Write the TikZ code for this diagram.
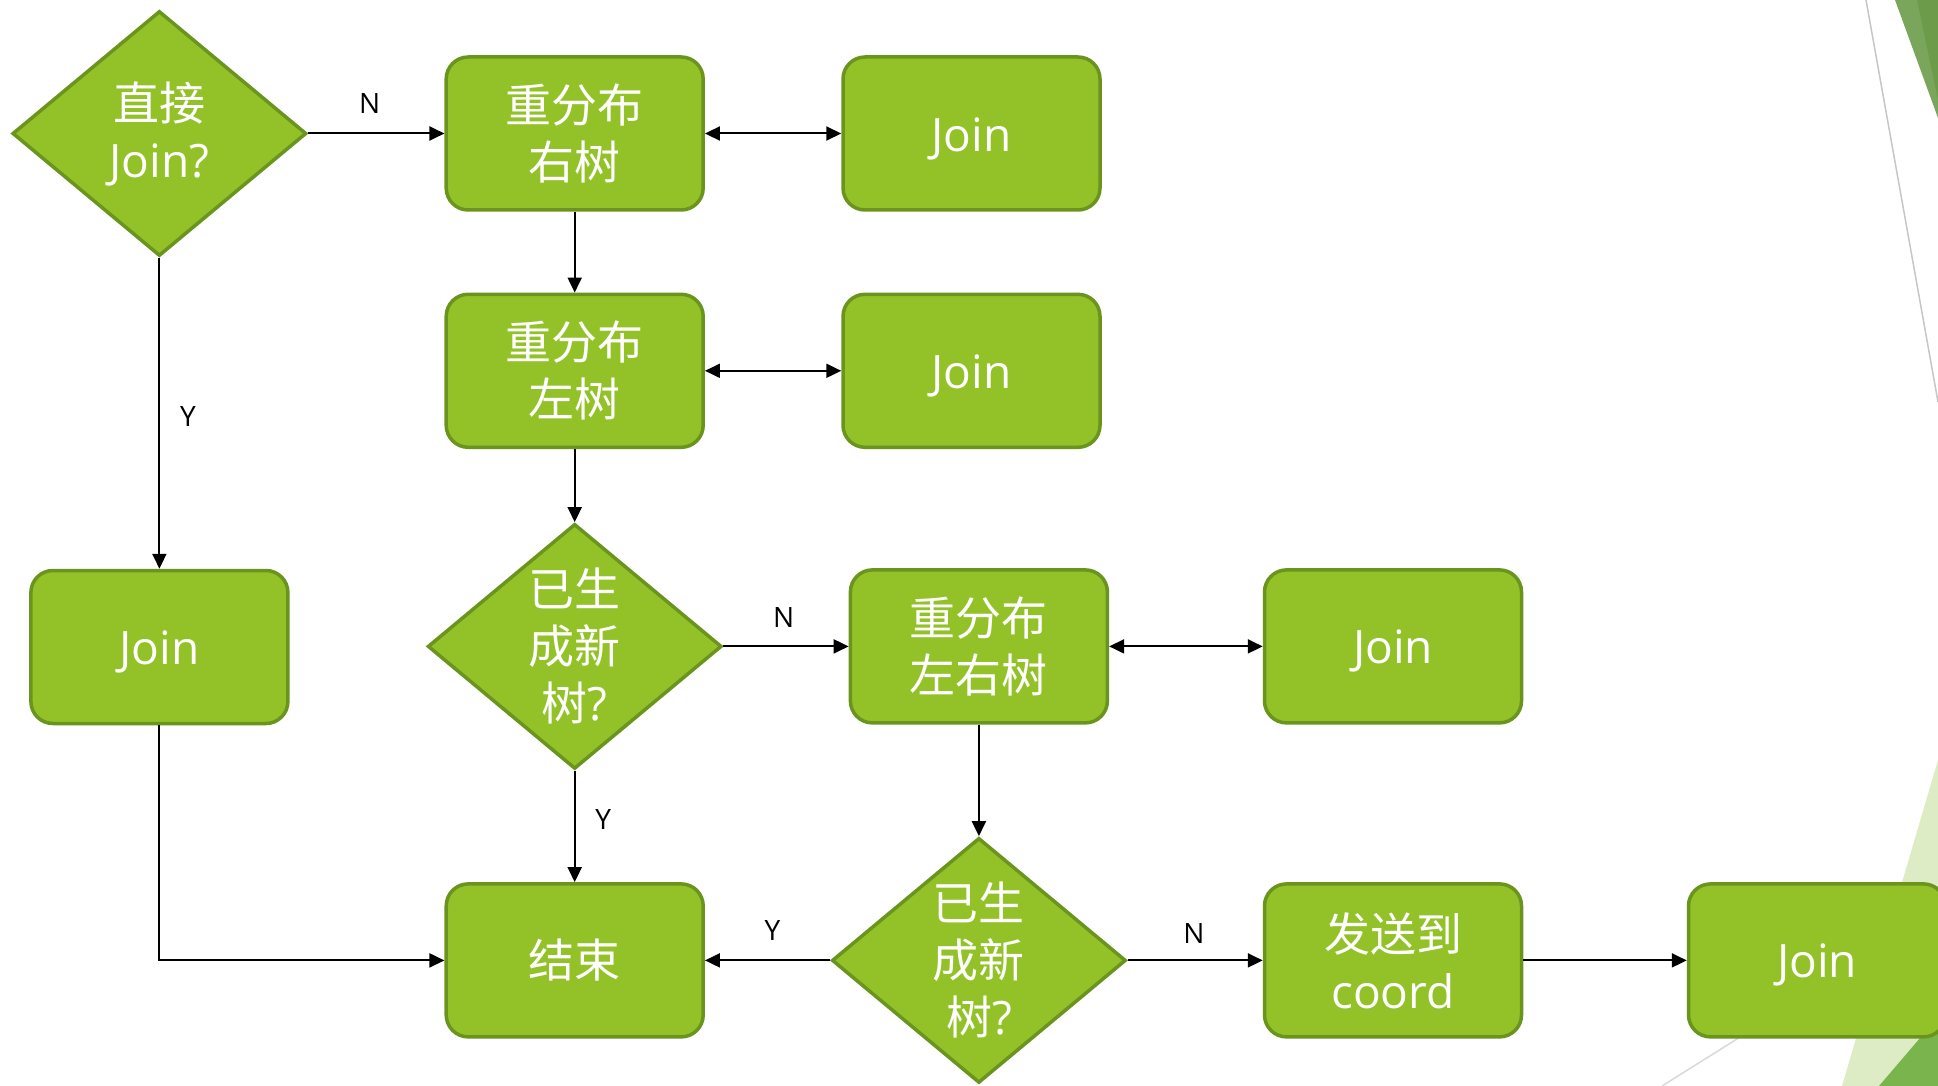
\documentclass[tikz,border=0pt]{standalone}
\usepackage{fontspec}
\setmainfont{Open Sans}
\newfontfamily\cjk{Noto Sans CJK SC}
\usetikzlibrary{shapes.geometric,arrows.meta}
\definecolor{boxfill}{RGB}{146,194,40}
\definecolor{boxline}{RGB}{107,148,30}
\definecolor{decolight}{RGB}{122,166,92}
\definecolor{decodark}{RGB}{108,155,74}
\definecolor{decopale}{RGB}{221,236,196}
\definecolor{decomid}{RGB}{122,180,76}
\tikzset{
  procbox/.style={draw=boxline, fill=boxfill, line width=3.5pt, rounded corners=22pt,
    minimum width=257pt, minimum height=153pt, inner sep=0pt},
  decbox/.style={draw=boxline, fill=boxfill, line width=3.5pt, shape=diamond,
    minimum width=294pt, minimum height=245pt, inner sep=0pt},
  boxtext/.style={text=white, align=center, font=\fontsize{46}{57}\selectfont, inner sep=0pt},
  jointext/.style={boxtext, yshift=-5pt},
  conn/.style={line width=2pt, -{Triangle[length=15pt,width=14pt]}},
  biconn/.style={line width=2pt, {Triangle[length=15pt,width=14pt]}-{Triangle[length=15pt,width=14pt]}},
  lbl/.style={font=\fontsize{28}{32}\selectfont, inner sep=0pt}
}
\begin{document}
\begin{tikzpicture}[x=1pt,y=-1pt]
\useasboundingbox (0,0) rectangle (1938,1086);
% background decorations
\draw[gray!45, line width=1.5pt] (1866,0) -- (1938,402);
\fill[decolight] (1895,0) -- (1938,0) -- (1938,118) -- cycle;
\fill[decodark] (1917,0) -- (1938,0) -- (1938,100) -- cycle;
\draw[gray!30, line width=1.5pt] (1662,1086) -- (1938,913);
\fill[decopale] (1938,760) -- (1842,1086) -- (1938,1086) -- cycle;
\fill[decomid] (1879,1086) -- (1938,1017) -- (1938,1086) -- cycle;

% nodes
\node[decbox] (d1) at (159.4,133.5) {};
\node[boxtext] (d1t) at (d1) {{\cjk 直接}\\Join?};
\node[procbox] (b1) at (574.7,133.5) {};
\node[boxtext] (b1t) at (b1) {\cjk 重分布\\\cjk 右树};
\node[procbox] (j1) at (971.5,133.5) {};
\node[jointext] (j1t) at (j1) {Join};
\node[procbox] (b2) at (574.7,370.8) {};
\node[boxtext] (b2t) at (b2) {\cjk 重分布\\\cjk 左树};
\node[procbox] (j2) at (971.5,370.8) {};
\node[jointext] (j2t) at (j2) {Join};
\node[decbox] (d2) at (574.7,646.4) {};
\node[boxtext] (d2t) at (d2) {\cjk 已生\\\cjk 成新\\{\cjk 树}?};
\node[procbox] (b3) at (978.9,646.4) {};
\node[boxtext] (b3t) at (b3) {\cjk 重分布\\\cjk 左右树};
\node[procbox] (j3) at (1393,646.4) {};
\node[jointext] (j3t) at (j3) {Join};
\node[procbox] (j0) at (159.4,647) {};
\node[jointext] (j0t) at (j0) {Join};
\node[procbox] (e) at (574.7,960.4) {};
\node[boxtext] (et) at (e) {\cjk 结束};
\node[decbox] (d3) at (978.9,960.4) {};
\node[boxtext] (d3t) at (d3) {\cjk 已生\\\cjk 成新\\{\cjk 树}?};
\node[procbox] (s) at (1393,960.4) {};
\node[boxtext] (st) at (s) {{\cjk 发送到}\\coord};
\node[procbox] (j4) at (1817,960.4) {};
\node[jointext] (j4t) at (j4) {Join};

% connectors
\draw[conn] (d1.east) -- (b1.west);
\draw[biconn] (b1.east) -- (j1.west);
\draw[conn] (b1.south) -- (b2.north);
\draw[biconn] (b2.east) -- (j2.west);
\draw[conn] (b2.south) -- (d2.north);
\draw[conn] (d1.south) -- (j0.north);
\draw[conn] (d2.east) -- (b3.west);
\draw[biconn] (b3.east) -- (j3.west);
\draw[conn] (b3.south) -- (d3.north);
\draw[conn] (d2.south) -- (e.north);
\draw[conn] (j0.south) |- (e.west);
\draw[conn] (d3.west) -- (e.east);
\draw[conn] (d3.east) -- (s.west);
\draw[conn] (s.east) -- (j4.west);

% labels
\node[lbl] (n1) at (369.6,104) {N};
\node[lbl] (y1) at (187.9,416.5) {Y};
\node[lbl] (n2) at (783.6,618) {N};
\node[lbl] (y2) at (603.2,819.5) {Y};
\node[lbl] (y3) at (772.5,930.7) {Y};
\node[lbl] (n3) at (1194,933.2) {N};
\end{tikzpicture}
\end{document}
